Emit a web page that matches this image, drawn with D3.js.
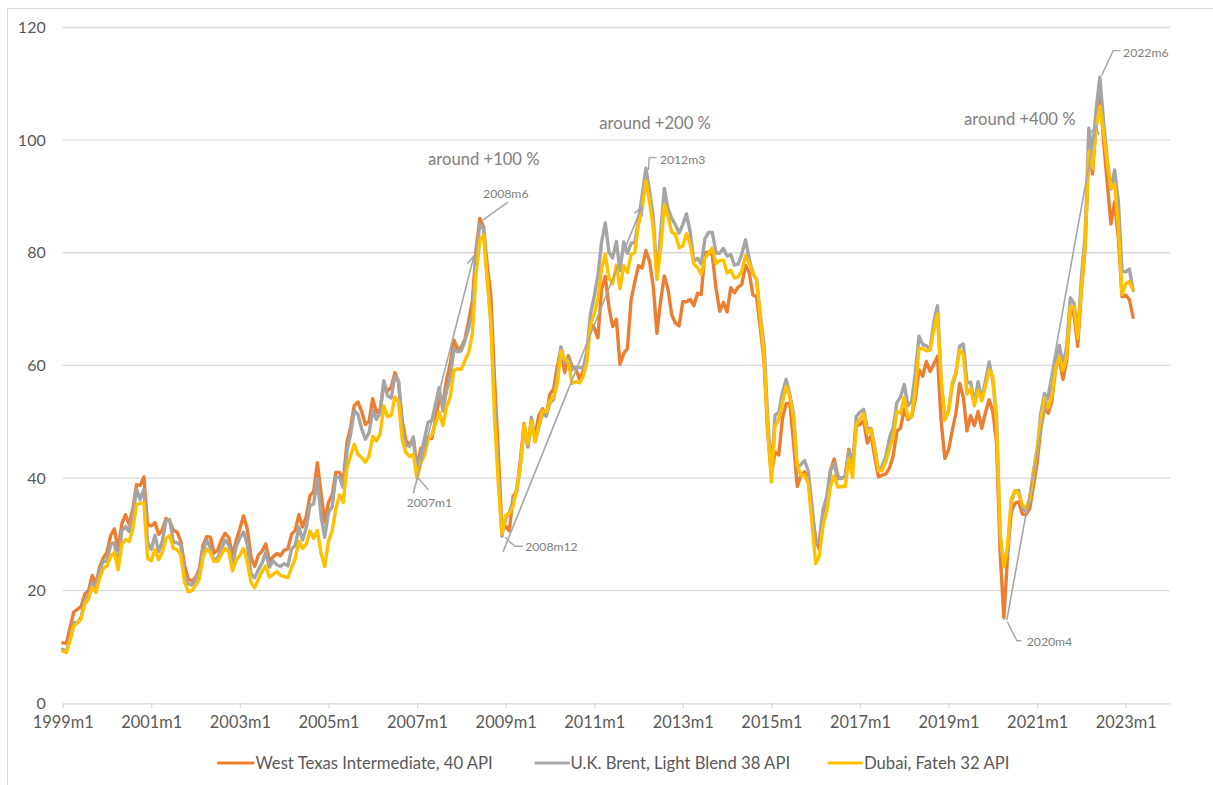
<!DOCTYPE html>
<html>
<head>
<meta charset="utf-8">
<script src="https://cdn.jsdelivr.net/npm/d3@7"></script>
<style>
  html, body { margin: 0; padding: 0; background: #ffffff; }
  svg { display: block; }
  text { font-family: Lato, "Open Sans", "DejaVu Sans", sans-serif; }
</style>
</head>
<body>
<svg id="chart" width="1213" height="785"></svg>
<script>
// ---------------- data (EUR per barrel, monthly, 1999m1 .. 2023m3) ----------------
const seriesNames = ["West Texas Intermediate, 40 API", "U.K. Brent, Light Blend 38 API", "Dubai, Fateh 32 API"];
const seriesColors = ["#ED7D31", "#A5A5A5", "#FFC000"];

const wti = [
  10.7,10.7,13.5,16.2,16.7,17.2,19.4,20.0,22.7,21.1,24.2,25.8,
  26.8,29.8,31.0,27.2,31.8,33.5,31.7,34.5,38.8,38.7,40.2,31.7,
  31.5,32.1,30.0,30.8,32.8,32.3,30.7,30.4,28.8,24.5,22.1,21.7,
  22.3,23.8,28.0,29.6,29.5,26.7,27.2,29.0,30.2,29.4,26.3,28.9,
  31.0,33.3,31.0,26.0,24.3,26.3,27.0,28.3,25.2,26.0,26.6,26.2,
  27.2,27.4,30.0,30.7,33.5,31.3,33.2,36.9,37.6,42.7,37.3,32.2,
  35.7,37.0,41.0,41.0,39.3,46.3,49.0,52.9,53.5,51.8,49.5,50.1,
  54.1,51.6,52.2,56.6,55.5,56.1,58.7,57.0,50.1,46.7,45.9,46.9,
  41.9,45.3,45.6,47.3,47.0,50.3,54.0,53.1,57.5,60.3,64.5,62.9,
  63.2,64.7,67.9,71.5,80.6,86.1,84.6,77.9,72.4,57.5,45.0,30.6,
  31.5,30.6,36.7,37.6,43.2,49.7,45.5,49.8,47.7,51.1,52.3,51.0,
  54.9,55.8,59.8,62.9,58.7,61.7,59.8,59.4,57.6,58.9,61.7,67.4,
  66.7,64.9,73.5,75.8,70.3,66.9,68.2,60.2,62.1,63.0,71.7,74.8,
  77.7,77.3,80.4,78.5,74.0,65.7,71.5,75.9,73.5,69.0,67.5,67.0,
  71.3,71.3,71.7,70.6,72.8,72.6,80.0,80.1,79.6,73.7,69.6,71.2,
  69.5,73.8,72.9,73.9,74.4,77.8,76.5,72.5,72.2,66.6,60.8,48.1,
  40.6,44.6,44.1,50.5,53.2,53.3,46.3,38.5,40.5,41.1,39.5,34.2,
  29.2,27.3,33.8,35.9,41.3,43.4,40.3,39.9,40.3,45.1,42.3,49.3,
  49.5,50.2,46.2,47.6,43.8,40.2,40.5,40.7,41.8,43.9,48.3,48.9,
  52.2,50.4,50.9,54.0,59.2,58.1,60.7,58.9,60.2,61.6,50.1,43.5,
  45.0,48.4,51.5,56.8,54.4,48.4,51.1,49.3,51.8,48.8,51.6,53.9,
  51.8,46.3,26.4,15.2,26.2,34.0,35.5,35.8,33.6,33.5,34.6,38.6,
  42.7,48.8,52.4,51.5,53.7,59.3,61.3,57.5,60.8,70.0,68.9,63.4,
  73.3,80.8,98.3,94.0,103.3,108.7,99.8,92.5,85.1,89.0,82.7,72.2,
  72.5,71.7,68.5
];

const brent = [
  9.6,9.2,11.5,14.3,14.3,15.3,18.4,19.1,21.4,20.6,23.8,25.2,
  25.2,28.2,28.5,24.0,30.6,31.4,30.5,33.4,38.0,36.2,38.0,28.6,
  27.3,29.8,26.9,28.8,32.4,32.6,28.6,28.5,28.1,22.7,21.2,21.0,
  22.0,23.3,27.1,29.0,27.6,25.2,25.9,27.3,29.0,28.1,24.3,27.8,
  29.4,30.4,28.3,23.0,22.3,23.7,24.9,26.8,24.2,25.3,24.6,24.3,
  24.8,24.4,27.4,28.0,31.3,29.0,31.2,35.1,35.4,39.9,33.2,29.5,
  33.9,34.9,40.2,40.1,38.3,44.7,47.8,52.0,51.3,48.7,46.9,48.0,
  52.0,50.4,51.6,57.3,54.6,54.2,58.1,57.2,48.7,45.8,45.6,47.3,
  41.3,44.0,46.9,49.9,50.2,53.1,56.1,51.9,55.5,57.9,62.9,62.4,
  62.6,64.4,66.7,69.2,78.9,85.1,84.2,75.6,67.7,53.7,41.2,29.7,
  32.8,33.9,35.7,38.0,42.0,49.0,45.7,50.8,46.5,49.1,51.4,51.0,
  53.4,53.9,58.1,63.3,60.4,61.2,59.2,59.7,59.6,59.5,62.4,69.2,
  72.2,76.0,81.9,85.3,80.1,79.1,82.0,76.8,81.9,79.9,81.7,81.8,
  85.8,90.2,95.0,91.0,86.3,76.0,83.5,91.4,87.8,86.1,85.0,83.5,
  85.0,86.9,83.7,78.5,79.0,78.0,82.5,83.6,83.6,80.0,79.9,80.8,
  79.4,79.7,77.8,78.0,79.8,82.3,78.9,76.3,75.3,69.0,63.7,50.6,
  41.1,51.2,51.6,55.2,57.5,54.8,51.4,41.8,42.4,43.1,41.2,35.0,
  28.3,29.0,34.4,36.7,41.3,42.5,39.9,40.0,40.2,44.7,41.9,50.9,
  51.7,52.2,48.7,48.8,45.5,41.3,42.1,43.8,47.1,48.9,53.4,54.4,
  56.6,52.9,53.5,58.7,65.2,63.7,63.5,62.8,67.7,70.6,57.0,50.4,
  52.0,56.3,58.5,63.4,63.8,56.9,57.0,53.1,57.1,54.0,57.2,60.6,
  57.3,51.0,28.9,24.5,27.0,35.8,37.7,37.8,34.7,34.1,36.1,41.1,
  45.0,51.5,55.0,54.1,56.4,60.7,63.6,60.1,63.3,72.0,71.0,65.6,
  75.6,83.1,102.1,97.8,105.5,111.2,103.3,96.6,91.3,94.7,89.2,76.8,
  76.6,77.1,73.3
];

const dubai = [
  9.3,9.0,11.1,13.7,14.3,15.0,17.7,18.5,20.6,19.7,22.2,24.0,
  24.4,26.1,26.8,23.7,28.2,29.1,28.7,30.9,35.3,35.5,35.6,25.7,
  25.3,27.3,25.5,26.8,29.3,29.8,27.5,27.3,26.3,21.6,19.8,20.0,
  20.9,22.1,25.9,27.4,26.8,25.2,25.2,26.4,27.5,26.9,23.5,25.4,
  26.3,27.5,25.2,21.5,20.5,22.0,23.4,24.4,22.4,22.9,23.4,22.7,
  22.5,22.3,24.1,25.7,28.8,27.5,28.3,30.6,29.3,30.7,26.6,24.3,
  28.8,30.6,34.5,37.0,35.7,41.8,44.0,46.0,44.2,43.6,42.8,43.9,
  47.4,46.6,47.8,52.8,50.9,51.1,54.4,53.5,46.7,44.5,43.8,44.2,
  39.9,42.6,44.0,46.9,47.7,49.6,51.7,49.3,52.6,54.4,59.1,59.4,
  59.3,60.9,62.3,65.7,76.2,82.2,83.2,75.4,67.4,50.6,39.2,30.1,
  33.3,33.7,34.9,38.0,42.1,49.5,46.1,50.1,46.4,49.3,52.0,51.7,
  53.7,54.3,56.7,62.6,61.1,60.6,56.8,57.1,56.9,58.0,60.5,67.3,
  69.1,71.8,77.1,79.8,75.5,74.5,77.8,73.6,77.7,76.5,79.7,80.1,
  85.0,87.8,92.8,89.1,84.4,75.3,80.6,88.6,86.5,83.7,83.3,80.9,
  81.2,83.4,81.5,78.0,77.4,76.1,79.1,79.9,80.8,78.1,78.6,78.7,
  76.4,76.9,75.5,75.7,76.8,79.5,78.1,76.5,75.1,68.5,61.6,49.0,
  39.3,49.2,50.4,53.4,56.3,54.4,50.7,42.4,40.4,40.6,39.0,31.9,
  24.8,26.2,31.6,34.0,38.5,40.4,38.4,38.5,38.5,43.5,40.1,49.5,
  50.5,51.4,48.1,48.6,45.3,41.3,41.3,42.9,45.3,47.1,51.8,51.5,
  54.3,50.7,50.9,55.6,63.0,63.0,62.6,62.7,66.2,69.1,57.7,50.3,
  51.8,56.9,58.8,62.7,61.9,54.9,55.9,52.8,55.6,53.7,56.2,59.2,
  58.0,49.7,30.4,24.2,28.0,36.3,37.8,37.3,35.2,34.6,36.4,41.0,
  45.0,50.3,54.2,52.5,54.6,59.5,61.5,59.1,61.7,70.4,70.4,64.8,
  73.8,81.4,98.0,95.0,102.2,106.0,101.4,96.1,91.5,92.2,84.7,72.6,
  74.5,74.9,73.4
];

const xTickLabels = ["1999m1","2001m1","2003m1","2005m1","2007m1","2009m1","2011m1",
                     "2013m1","2015m1","2017m1","2019m1","2021m1","2023m1"];
const yTickValues = [0, 20, 40, 60, 80, 100, 120];

// category axis runs 1999m1 .. 2024m1
const firstYear = 1999, lastYear = 2024, lastMonthOfLastYear = 1;
const categories = [];
for (let yr = firstYear; yr <= lastYear; yr++) {
  for (let m = 1; m <= 12; m++) {
    if (yr === lastYear && m > lastMonthOfLastYear) break;
    categories.push(yr + "m" + m);
  }
}

// annotations: position in (month index, value) space
const bigNotes = [
  { text: "around +100 %", i: 99.0,  v: 96.6 },
  { text: "around +200 %", i: 145.4, v: 103.1 },
  { text: "around +400 %", i: 244.2, v: 103.7 }
];
const pointNotes = [
  { text: "2008m6",  at: [113.9, 90.6],  leader: [[120.6, 89.0], [113.8, 85.8]] },
  { text: "2007m1",  at: [93.2, 35.6],   leader: [[99.1, 37.9], [96.3, 40.0]] },
  { text: "2008m12", at: [125.3, 27.8],  leader: [[124.7, 27.9], [122.5, 27.9], [119.8, 29.5]] },
  { text: "2012m3",  at: [161.8, 96.5],  leader: [[160.9, 96.9], [158.9, 96.9], [158.7, 94.7]] },
  { text: "2022m6",  at: [287.3, 115.6], leader: [[286.5, 115.9], [284.6, 115.9], [281.5, 111.5]] },
  { text: "2020m4",  at: [261.2, 10.9],  leader: [[259.8, 11.1], [258.5, 11.1], [255.9, 14.5]] }
];
const arrows = [
  { from: [95.0, 37.3],  to: [111.4, 79.4] },
  { from: [119.3, 26.9], to: [156.9, 88.2] },
  { from: [255.8, 14.8], to: [280.0, 102.6] }
];

// ---------------- layout ----------------
(function draw() {
  const svg = d3.select("#chart");
  const plotLeft = 62.7, plotRight = 1170, plotTop = 27.5, plotBottom = 703.3;

  const x = d3.scaleLinear().domain([0, categories.length - 1]).range([plotLeft, plotRight]);
  const y = d3.scaleLinear().domain([0, 120]).range([plotBottom, plotTop]);

  const axisColor = "#D9D9D9";
  const textColor = "#595959";
  const noteColor = "#808080";
  const leaderColor = "#A6A6A6";
  const font = "Lato, 'Open Sans', sans-serif";

  // chart frame
  svg.append("rect")
    .attr("x", 7.5).attr("y", 8.5).attr("width", 1400).attr("height", 1000)
    .attr("fill", "none").attr("stroke", axisColor).attr("stroke-width", 1);

  // gridlines
  svg.append("g").selectAll("line")
    .data(yTickValues.filter(v => v > 0))
    .join("line")
    .attr("x1", plotLeft).attr("x2", plotRight)
    .attr("y1", d => y(d)).attr("y2", d => y(d))
    .attr("stroke", axisColor).attr("stroke-width", 1.3);

  // y axis labels
  const yAxis = d3.axisLeft(y).tickValues(yTickValues).tickSize(0).tickPadding(17);
  const gy = svg.append("g").attr("transform", `translate(${plotLeft},0)`).call(yAxis);
  gy.select(".domain").remove();
  gy.selectAll("text").attr("fill", textColor).style("font-size", "16px").style("font-family", font);

  // x axis
  const tickIndex = xTickLabels.map(l => categories.indexOf(l));
  const xAxis = d3.axisBottom(x).tickValues(tickIndex)
    .tickFormat(i => categories[i]).tickSize(5).tickSizeOuter(0).tickPadding(8);
  const gx = svg.append("g").attr("transform", `translate(0,${plotBottom})`).call(xAxis);
  gx.select(".domain").attr("stroke", axisColor).attr("stroke-width", 1.3);
  gx.selectAll(".tick line").attr("stroke", axisColor).attr("stroke-width", 1.3);
  gx.selectAll("text").attr("fill", textColor).style("font-size", "16.4px").style("font-family", font);

  // series lines
  const allSeries = [wti, brent, dubai];
  const line = d3.line().x((d, i) => x(i)).y(d => y(d));
  svg.append("g").selectAll("path")
    .data(allSeries)
    .join("path")
    .attr("d", d => line(d))
    .attr("fill", "none")
    .attr("stroke", (d, i) => seriesColors[i])
    .attr("stroke-width", 3.4)
    .attr("stroke-linejoin", "round")
    .attr("stroke-linecap", "round");

  // arrows
  const ga = svg.append("g").attr("stroke", leaderColor).attr("fill", "none").attr("stroke-width", 1.6);
  arrows.forEach(a => {
    const x1 = x(a.from[0]), y1 = y(a.from[1]), x2 = x(a.to[0]), y2 = y(a.to[1]);
    ga.append("line").attr("x1", x1).attr("y1", y1).attr("x2", x2).attr("y2", y2);
    const ang = Math.atan2(y2 - y1, x2 - x1);
    const L = 10, spread = 0.45;
    const p1 = [x2 - L * Math.cos(ang - spread), y2 - L * Math.sin(ang - spread)];
    const p2 = [x2 - L * Math.cos(ang + spread), y2 - L * Math.sin(ang + spread)];
    ga.append("path").attr("d", `M${p1[0]},${p1[1]}L${x2},${y2}L${p2[0]},${p2[1]}`);
  });

  // point labels + leaders
  const gl = svg.append("g");
  pointNotes.forEach(n => {
    gl.append("path")
      .attr("d", d3.line()(n.leader.map(p => [x(p[0]), y(p[1])])))
      .attr("fill", "none").attr("stroke", leaderColor).attr("stroke-width", 1.4);
    gl.append("text")
      .attr("x", x(n.at[0])).attr("y", y(n.at[1]))
      .attr("dominant-baseline", "central")
      .attr("fill", noteColor).style("font-size", "12.2px")
      .text(n.text);
  });

  // big annotations
  svg.append("g").selectAll("text")
    .data(bigNotes)
    .join("text")
    .attr("x", d => x(d.i)).attr("y", d => y(d.v))
    .attr("dominant-baseline", "central")
    .attr("fill", noteColor).style("font-size", "16.6px")
    .text(d => d.text);

  // legend
  const legendItems = [
    { name: seriesNames[0], color: seriesColors[0], x0: 218.5, x1: 253, tx: 255.5 },
    { name: seriesNames[1], color: seriesColors[1], x0: 536, x1: 568.5, tx: 570.5 },
    { name: seriesNames[2], color: seriesColors[2], x0: 829, x1: 861.5, tx: 864 }
  ];
  const gLeg = svg.append("g");
  legendItems.forEach(it => {
    gLeg.append("line").attr("x1", it.x0).attr("x2", it.x1).attr("y1", 763).attr("y2", 763)
      .attr("stroke", it.color).attr("stroke-width", 3.2).attr("stroke-linecap", "round");
    gLeg.append("text").attr("x", it.tx).attr("y", 763).attr("dominant-baseline", "central")
      .attr("fill", textColor).style("font-size", "16.7px").text(it.name);
  });
})();
</script>
</body>
</html>
